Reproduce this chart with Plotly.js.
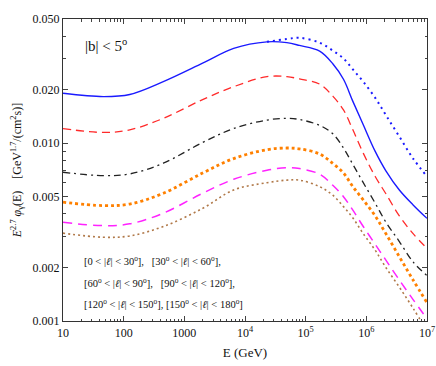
<!DOCTYPE html>
<html>
<head>
<meta charset="utf-8">
<script src="https://cdn.plot.ly/plotly-3.0.1.min.js"></script>
<style>html,body{margin:0;padding:0;background:#fff;}#chart{width:436px;height:366px;}</style>
</head>
<body>
<div id="chart"></div>
<script>
// Energy grid (GeV)
const energy = [10, 46, 126, 450, 2000, 6500, 23000, 49000, 79000, 170000, 280000, 420000, 600000, 890000, 1.4e6, 2.1e6, 3.5e6, 5.9e6, 1e7];

// E^2.7 phi (GeV^1.7 / cm^2 s)
const totalSolid = [0.0191, 0.0183, 0.0188, 0.0222, 0.0282, 0.0342, 0.0372, 0.0368, 0.0355, 0.0330, 0.0280, 0.0229, 0.0172, 0.0127, 0.0090, 0.0070, 0.00546, 0.0045, 0.00378];
const dottedEnergy = [23000, 49000, 79000, 170000, 280000, 420000, 600000, 890000, 1.4e6, 2.1e6, 3.5e6, 5.9e6, 1e7];
const totalDotted = [0.0372, 0.0386, 0.0392, 0.0368, 0.0332, 0.0300, 0.0260, 0.0222, 0.0180, 0.0144, 0.0109, 0.0082, 0.0065];
const l0to30 = [0.0121, 0.0115, 0.0119, 0.0138, 0.0176, 0.0208, 0.0237, 0.0237, 0.0230, 0.0215, 0.0184, 0.0154, 0.0119, 0.0088, 0.0065, 0.0052, 0.0039, 0.0031, 0.00256];
const l30to60 = [0.00687, 0.00657, 0.00672, 0.00772, 0.0101, 0.0121, 0.0135, 0.0138, 0.0136, 0.0126, 0.0113, 0.0094, 0.0076, 0.0060, 0.0046, 0.0036, 0.0028, 0.00215, 0.0018];
const l60to90 = [0.00466, 0.00446, 0.00455, 0.00523, 0.0068, 0.0082, 0.0092, 0.0094, 0.0093, 0.0087, 0.0077, 0.0068, 0.0057, 0.0048, 0.0039, 0.0031, 0.0023, 0.0017, 0.00127];
const l90to120 = [0.00359, 0.00344, 0.00352, 0.00404, 0.00523, 0.00627, 0.00705, 0.00728, 0.0072, 0.0067, 0.0058, 0.0050, 0.0042, 0.0034, 0.0027, 0.0022, 0.0017, 0.00132, 0.00103];
const l120to180 = [0.00312, 0.00296, 0.00301, 0.0034, 0.0043, 0.00546, 0.0060, 0.0062, 0.0062, 0.0057, 0.0051, 0.0044, 0.0038, 0.0031, 0.0025, 0.0020, 0.00155, 0.00118, 0.00088];

const xTickVals = [10, 100, 1000, 1e4, 1e5, 1e6, 1e7];
const xTickText = ['10', '100', '1000', '10<sup>4</sup>', '10<sup>5</sup>', '10<sup>6</sup>', '10<sup>7</sup>'];
const yTickVals = [0.001, 0.002, 0.005, 0.01, 0.02, 0.05];
const yTickText = ['0.001', '0.002', '0.005', '0.010', '0.020', '0.050'];

const xMinor = [];
for (let d = 10; d < 1e7; d *= 10) for (let k = 2; k <= 9; k++) xMinor.push(d * k);
const yMinor = [];
for (let d = 0.001; d < 0.05; d *= 10) for (let k = 2; k <= 9; k++) { const v = d * k; if (v < 0.05 && k !== 2 && k !== 5) yMinor.push(v); }

function tr(x, y, color, width, dash) {
  return {x: x, y: y, type: 'scatter', mode: 'lines', line: {color: color, width: width, dash: dash, shape: 'spline', smoothing: 1}, showlegend: false, hoverinfo: 'skip'};
}

const data = [
  tr(dottedEnergy, totalDotted, '#1a1aff', 2, '2px,4px'),
  tr(energy, totalSolid, '#1a1aff', 1.4, 'solid'),
  tr(energy, l0to30, '#ff2a2a', 1.3, '8px,5px'),
  tr(energy, l30to60, '#222222', 1.3, '7px,4px,2px,4px'),
  tr(energy, l60to90, '#ff8000', 2.8, '3px,3px'),
  tr(energy, l90to120, '#ff22ff', 1.5, '9px,6px'),
  tr(energy, l120to180, '#b07848', 1.6, '2px,3px')
];

const serif = '"Liberation Serif", "Times New Roman", Times, serif';
const font = {family: serif, size: 12, color: '#111'};
const axisCommon = {
  type: 'log', showgrid: false, zeroline: false, showline: true, linecolor: '#333', linewidth: 1.2,
  mirror: 'ticks', ticks: 'inside', ticklen: 5, tickcolor: '#444', tickmode: 'array',
  tickfont: font
};

const layout = {
  width: 436, height: 366,
  margin: {l: 63, r: 9, t: 19, b: 45},
  paper_bgcolor: '#fff', plot_bgcolor: '#fff',
  font: font,
  xaxis: Object.assign({}, axisCommon, {
    range: [1, 7], tickvals: xTickVals, ticktext: xTickText,
    minor: {tickmode: 'array', tickvals: xMinor, ticks: 'inside', ticklen: 2.5, tickcolor: '#444'},
    title: {text: 'E (GeV)', font: {family: serif, size: 13, color: '#111'}, standoff: 9}
  }),
  yaxis: Object.assign({}, axisCommon, {
    range: [-3, Math.log10(0.05)], tickvals: yTickVals, ticktext: yTickText,
    minor: {tickmode: 'array', tickvals: yMinor, ticks: 'inside', ticklen: 2.5, tickcolor: '#444'},
    title: {text: '<i>E</i><sup>2.7</sup> <i>φ</i><sub>γ</sub>(E)&#160;&#160;&#160;&#160;[GeV<sup>1.7</sup>/(cm<sup>2</sup>s)]', font: {family: serif, size: 12, color: '#111'}, standoff: 8}
  }),
  annotations: [
    {xref: 'paper', yref: 'paper', x: 0.055, y: 0.914, xanchor: 'left', yanchor: 'middle', showarrow: false,
     text: '|b| &lt; 5<sup>o</sup>', font: {family: serif, size: 15, color: '#111'}},
    {xref: 'paper', yref: 'paper', x: 0.052, y: 0.199, xanchor: 'left', yanchor: 'middle', showarrow: false,
     text: '[0 &lt; |<i>ℓ</i>| &lt; 30<sup>o</sup>],&#160;&#160;&#160;[30<sup>o</sup> &lt; |<i>ℓ</i>| &lt; 60<sup>o</sup>],', font: {family: serif, size: 10.5, color: '#111'}},
    {xref: 'paper', yref: 'paper', x: 0.052, y: 0.129, xanchor: 'left', yanchor: 'middle', showarrow: false,
     text: '[60<sup>o</sup> &lt; |<i>ℓ</i>| &lt; 90<sup>o</sup>],&#160;&#160;&#160;[90<sup>o</sup> &lt; |<i>ℓ</i>| &lt; 120<sup>o</sup>],', font: {family: serif, size: 10.5, color: '#111'}},
    {xref: 'paper', yref: 'paper', x: 0.052, y: 0.0596, xanchor: 'left', yanchor: 'middle', showarrow: false,
     text: '[120<sup>o</sup> &lt; |<i>ℓ</i>| &lt; 150<sup>o</sup>], [150<sup>o</sup> &lt; |<i>ℓ</i>| &lt; 180<sup>o</sup>]', font: {family: serif, size: 10.5, color: '#111'}}
  ]
};

Plotly.newPlot('chart', data, layout, {staticPlot: true, displayModeBar: false});
</script>
</body>
</html>
